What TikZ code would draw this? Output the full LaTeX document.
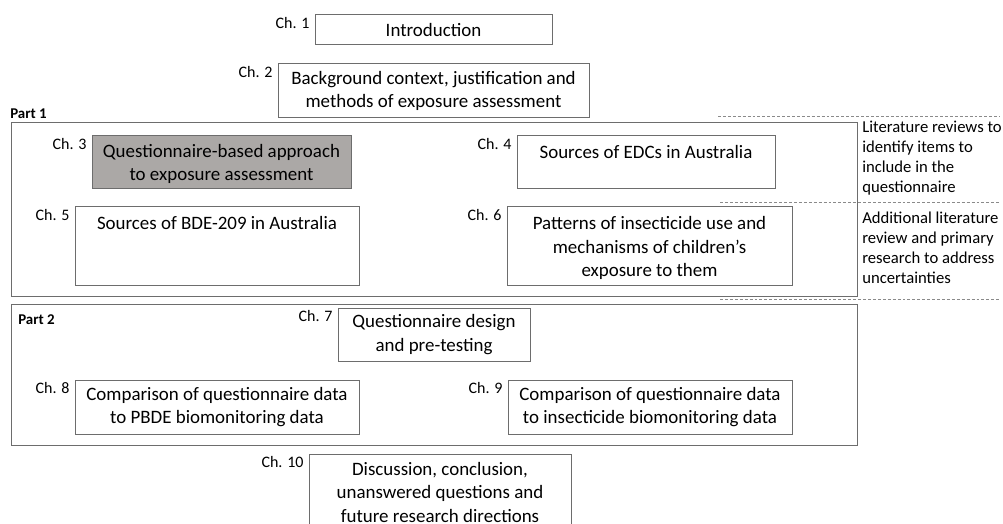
\documentclass[tikz,border=0pt]{standalone}
\usepackage{fontspec}
\setmainfont{Carlito}
\definecolor{edge}{HTML}{6D6D6D}
\definecolor{shade}{HTML}{ABA8A6}
\definecolor{dash}{HTML}{8A8A8A}
\begin{document}
\begin{tikzpicture}[x=0.75pt,y=-0.75pt,
  sz/.style 2 args={minimum width=#1*0.75pt, minimum height=#2*0.75pt},
  box/.style={draw=edge, line width=0.75pt, inner sep=0pt, align=center,
    font=\fontsize{14.2pt}{17.6pt}\selectfont},
  part/.style={draw=edge, line width=0.75pt, inner sep=0pt},
  chap/.style={anchor=north east, inner sep=0pt, font=\fontsize{12pt}{14pt}\selectfont, xshift=-3.5pt, yshift=-2pt},
  toptext/.style={anchor=north, inner sep=0pt, align=center, font=\fontsize{14.2pt}{17.6pt}\selectfont},
  side/.style={anchor=north west, inner sep=0pt, align=left, font=\fontsize{12.5pt}{15pt}\selectfont},
  partlbl/.style={anchor=west, inner sep=0pt, font=\bfseries\fontsize{11.2pt}{14pt}\selectfont},
  sep/.style={draw=dash, line width=0.6pt, dash pattern=on 2.2pt off 1.5pt}]
\clip (0,0) rectangle (1003,524);
\useasboundingbox (0,0) rectangle (1003,524);

% outer parts
\node[part, sz={846}{173}] (p1) at (434,209.5) {};
\node[part, sz={846}{141}] (p2) at (434,375) {};
\node[partlbl] (p1l) at (10,114) {Part 1};
\node[partlbl] (p2l) at (18,320) {Part 2};

% chapter boxes
\node[box, sz={237}{30}] (c1) at (433.5,30) {Introduction};
\node[box, sz={311}{54}] (c2) at (433.5,91) {Background context, justification and\\methods of exposure assessment};
\node[box, fill=shade, sz={259}{53}] (c3) at (221.5,162.5) {};
\node[toptext] (c3t) at ([yshift=-6.2pt]c3.north) {Questionnaire-based approach\\to exposure assessment};
\node[box, sz={258}{53}] (c4) at (646,162.5) {};
\node[toptext] (c4t) at ([yshift=-7.5pt]c4.north) {Sources of EDCs in Australia};
\node[box, sz={284}{78}] (c5) at (217,246) {};
\node[toptext] (c5t) at ([yshift=-7.5pt]c5.north) {Sources of BDE-209 in Australia};
\node[box, sz={285}{78}] (c6) at (649.5,246) {};
\node[toptext] (c6t) at ([yshift=-7.5pt]c6.north) {Patterns of insecticide use and\\mechanisms of children’s\\exposure to them};
\node[box, sz={192}{53}] (c7) at (434,334.5) {Questionnaire design\\and pre-testing};
\node[box, sz={284}{54}] (c8) at (217,407) {Comparison of questionnaire data\\to PBDE biomonitoring data};
\node[box, sz={284}{54}] (c9) at (650,407) {Comparison of questionnaire data\\to insecticide biomonitoring data};
\node[box, sz={262}{110}] (c10) at (440,509) {};
\node[toptext] (c10t) at ([yshift=-6.3pt]c10.north) {Discussion, conclusion,\\unanswered questions and\\future research directions};

% chapter labels
\node[chap] (l1) at (c1.north west) {Ch. 1};
\node[chap] (l2) at (c2.north west) {Ch. 2};
\node[chap] (l3) at (c3.north west) {Ch. 3};
\node[chap] (l4) at (c4.north west) {Ch. 4};
\node[chap] (l5) at (c5.north west) {Ch. 5};
\node[chap] (l6) at (c6.north west) {Ch. 6};
\node[chap] (l7) at (c7.north west) {Ch. 7};
\node[chap] (l8) at (c8.north west) {Ch. 8};
\node[chap] (l9) at (c9.north west) {Ch. 9};
\node[chap] (l10) at (c10.north west) {Ch. 10};

% side notes and separators
\coordinate (s1a) at (718,116); \coordinate (s1b) at (1000,116);
\coordinate (s2a) at (720,202); \coordinate (s2b) at (1000,202);
\coordinate (s3a) at (720,299); \coordinate (s3b) at (1000,299);
\draw[sep] (s1a) -- (s1b);
\draw[sep] (s2a) -- (s2b);
\draw[sep] (s3a) -- (s3b);
\node[side] (n1) at (862,121) {Literature reviews to\\identify items to\\include in the\\questionnaire};
\node[side] (n2) at (862,212) {Additional literature\\review and primary\\research to address\\uncertainties};
\end{tikzpicture}
\end{document}
